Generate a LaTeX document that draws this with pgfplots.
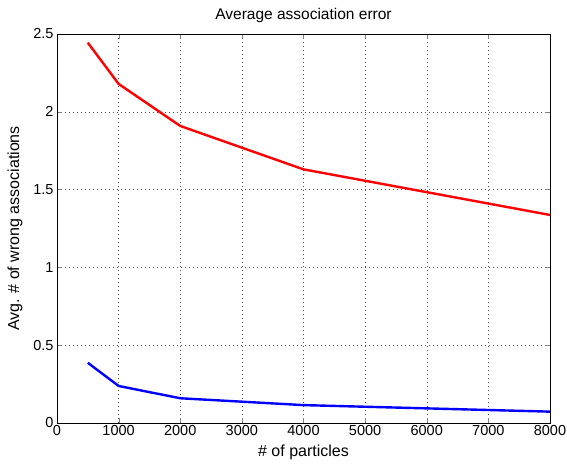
\documentclass[border=0pt]{standalone}
\usepackage{fontspec}
\setmainfont{Liberation Sans}
\usepackage{pgfplots}
\pgfplotsset{compat=1.18}
\begin{document}
\begin{tikzpicture}[x=1pt,y=1pt]
\begin{axis}[
  at={(0,0)}, anchor=south west,
  scale only axis, width=493pt, height=389pt,
  xmin=0, xmax=8000, ymin=0, ymax=2.5,
  xtick={0,1000,...,8000}, ytick={0,0.5,1,1.5,2,2.5},
  scaled x ticks=false,
  xticklabel style={/pgf/number format/1000 sep={}},
  /pgf/number format/assume math mode=true,
  tick label style={font=\fontsize{14.5}{16}\selectfont},
  xticklabel style={yshift=1pt},
  tick align=inside, tick pos=both,
  major tick length=5pt,
  grid=major,
  major grid style={black!70, line width=0.5pt, dash pattern=on 0.8pt off 3.2pt},
  axis line style={line width=0.6pt},
  title={Average association error},
  title style={font=\fontsize{15.5}{17}\selectfont, yshift=2pt},
  xlabel={\# of particles},
  ylabel={Avg. \# of wrong associations},
  label style={font=\fontsize{16}{18}\selectfont},
  xlabel style={yshift=-2pt},
  ylabel style={yshift=4pt},
]
\addplot[red, line width=2.4pt] coordinates {(500,2.444) (1000,2.179) (2000,1.909) (4000,1.630) (8000,1.337)};
\addplot[blue, line width=2.4pt] coordinates {(500,0.387) (1000,0.238) (2000,0.159) (4000,0.115) (8000,0.073)};
\end{axis}
\pgfresetboundingbox
\path[use as bounding box] (-57,-43) rectangle (510,423);
\end{tikzpicture}
\end{document}
